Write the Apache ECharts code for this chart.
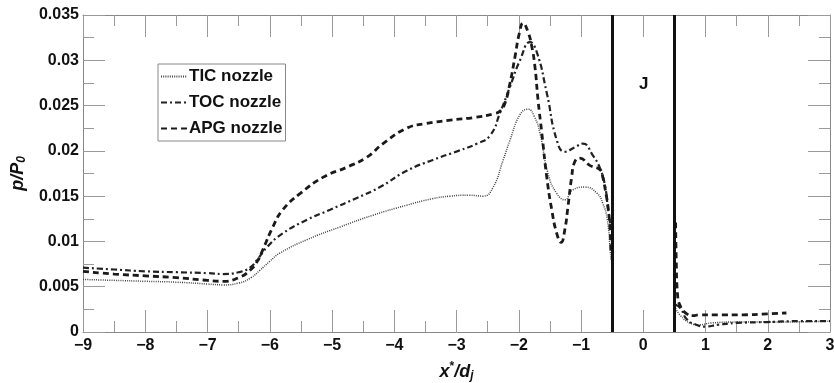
<!DOCTYPE html>
<html>
<head>
<meta charset="utf-8">
<script src="https://cdn.jsdelivr.net/npm/echarts@6/dist/echarts.min.js"></script>
<style>
  html, body { margin: 0; padding: 0; background: #fff; }
  #chart { width: 834px; height: 383px; }
</style>
</head>
<body>
<div id="chart"></div>
<script>
// x*/dj positions and p/P0 values, null = gap through the jet region
const apgX = [-9, -8.5, -8, -7.5, -7, -6.75, -6.5, -6.32, -6.2, -6.11, -5.95, -5.79, -5.51, -5.14, -4.76, -4.44, -4.18, -3.8, -3.5, -3.1, -2.7, -2.4, -2.3, -2.22, -2.14, -2.06, -1.99, -1.93, -1.85, -1.79, -1.74, -1.69, -1.63, -1.55, -1.47, -1.39, -1.32, -1.26, -1.21, -1.15, -1.1, -1.02, -0.86, -0.69, -0.65, -0.61, -0.56, -0.53, -0.52,
  0, 0.52, 0.53, 0.55, 0.6, 0.7, 0.8, 0.9, 1.2, 1.6, 2.0, 2.3];
const apgY = [0.0067, 0.0064, 0.0062, 0.006, 0.0057, 0.0056, 0.006, 0.0068, 0.0078, 0.0091, 0.0116, 0.0135, 0.0153, 0.0171, 0.0182, 0.0193, 0.0208, 0.0225, 0.023, 0.0234, 0.0237, 0.0241, 0.0244, 0.0253, 0.0275, 0.0304, 0.033, 0.0341, 0.0331, 0.0315, 0.0293, 0.0256, 0.022, 0.0171, 0.0135, 0.0109, 0.0099, 0.0113, 0.0138, 0.0171, 0.0188, 0.0192, 0.0184, 0.0179, 0.0171, 0.0157, 0.0135, 0.011, 0.009,
  null, 0.0121, 0.008, 0.0042, 0.0028, 0.002, 0.0018, 0.0019, 0.0019, 0.0019, 0.002, 0.0021];

const tocX = [-9, -8.5, -8, -7.5, -7, -6.75, -6.5, -6.32, -6.2, -6.04, -5.79, -5.4, -5.03, -4.6, -4.23, -3.8, -3.38, -2.97, -2.67, -2.46, -2.3, -2.14, -1.98, -1.82, -1.71, -1.55, -1.39, -1.26, -1.1, -0.97, -0.81, -0.69, -0.61, -0.57, -0.53,
  0, 0.52, 0.6, 0.7, 0.85, 1.0, 1.2, 1.5, 2.0, 2.5, 3.0];
const tocY = [0.0071, 0.0069, 0.0067, 0.0066, 0.0065, 0.0064, 0.0066, 0.0071, 0.008, 0.0094, 0.0109, 0.0124, 0.0135, 0.0148, 0.016, 0.0178, 0.019, 0.02, 0.0208, 0.0217, 0.0242, 0.0271, 0.03, 0.032, 0.0309, 0.0264, 0.0212, 0.0199, 0.0204, 0.0208, 0.0195, 0.018, 0.016, 0.0138, 0.012,
  null, 0.003, 0.0026, 0.0014, 0.0008, 0.0006, 0.0008, 0.001, 0.0011, 0.0012, 0.0012];

const ticX = [-9, -8.5, -8, -7.5, -7, -6.75, -6.5, -6.3, -6.16, -6.0, -5.84, -5.4, -4.87, -4.34, -3.8, -3.4, -3.1, -2.8, -2.57, -2.41, -2.25, -2.14, -1.98, -1.85, -1.75, -1.66, -1.53, -1.39, -1.26, -1.13, -0.94, -0.74, -0.65, -0.58, -0.53, -0.52,
  0, 0.52, 0.6, 0.75, 0.9, 1.1, 1.5, 2.0, 3.0];
const ticY = [0.0058, 0.0057, 0.0056, 0.0055, 0.0053, 0.0052, 0.0054, 0.006, 0.0068, 0.0078, 0.0087, 0.0102, 0.0116, 0.0129, 0.014, 0.0147, 0.015, 0.0151, 0.015, 0.016, 0.019, 0.0212, 0.024, 0.0246, 0.0238, 0.022, 0.0175, 0.0153, 0.0146, 0.0157, 0.016, 0.0153, 0.0142, 0.0125, 0.009, 0.008,
  null, 0.0026, 0.0018, 0.001, 0.0008, 0.001, 0.0011, 0.0011, 0.0012];

const wallX = [-0.5, 0.5];
const seriesNames = ['TIC nozzle', 'TOC nozzle', 'APG nozzle'];

const pairs = (xs, ys) => xs.map((x, i) => [x, ys[i] === null ? '-' : ys[i]]);

const myChart = echarts.init(document.getElementById('chart'));

const tickStyle = { color: '#9a9a9a', width: 1 };
const baseFont = 'Liberation Sans, Arial, sans-serif';

const xAxisBase = {
  type: 'value', min: -9, max: 3, interval: 1,
  axisLine: { show: true, onZero: false, lineStyle: { color: '#888' } },
  axisTick: { show: true, inside: true, length: 22, lineStyle: tickStyle },
  minorTick: { show: true, splitNumber: 2, length: 11, lineStyle: tickStyle },
  splitLine: { show: false },
};
const yAxisBase = {
  type: 'value', min: 0, max: 0.035, interval: 0.005,
  axisLine: { show: true, onZero: false, lineStyle: { color: '#888' } },
  axisTick: { show: true, inside: true, length: 22, lineStyle: tickStyle },
  minorTick: { show: true, splitNumber: 2, length: 11, lineStyle: tickStyle },
  splitLine: { show: false },
};

const option = {
  animation: false,
  backgroundColor: '#fff',
  grid: { left: 83, right: 4, top: 15, bottom: 51, containLabel: false, outerBoundsMode: 'none' },
  legend: {
    orient: 'vertical', left: 158, top: 64,
    padding: [4, 3, 4, 2], itemGap: 9,
    itemWidth: 26, itemHeight: 14,
    borderColor: '#888', borderWidth: 1,
    backgroundColor: '#fff',
    itemStyle: { opacity: 0 },
    data: seriesNames,
    textStyle: { fontFamily: baseFont, fontWeight: 'bold', fontSize: 17, color: '#111', padding: [0, 0, 0, -3] },
  },
  xAxis: [
    Object.assign({}, xAxisBase, {
      position: 'bottom',
      axisLabel: {
        fontFamily: baseFont, fontWeight: 'bold', fontSize: 16, color: '#111', margin: 6,
        formatter: (v) => (v < 0 ? '\u2212' + (-v) : String(v)),
      },
      name: '{i|x}{sup|*}{i|/d}{sub|j}',
      nameLocation: 'middle', nameGap: 29,
      nameTextStyle: {
        rich: {
          i: { fontFamily: baseFont, fontWeight: 'bold', fontStyle: 'italic', fontSize: 18, color: '#111' },
          sup: { fontFamily: baseFont, fontWeight: 'bold', fontSize: 12, color: '#111', padding: [0, 0, 10, 0] },
          sub: { fontFamily: baseFont, fontWeight: 'bold', fontStyle: 'italic', fontSize: 12, color: '#111', padding: [8, 0, 0, 0] },
        },
      },
    }),
    Object.assign({}, xAxisBase, { position: 'top', axisLabel: { show: false } }),
  ],
  yAxis: [
    Object.assign({}, yAxisBase, {
      position: 'left',
      axisLabel: {
        fontFamily: baseFont, fontWeight: 'bold', fontSize: 16, color: '#111', margin: 4,
        formatter: (v) => String(+v.toFixed(3)),
      },
      name: '{i|p/P}{sub|0}',
      nameLocation: 'middle', nameGap: 41, nameRotate: 90,
      nameTextStyle: {
        rich: {
          i: { fontFamily: baseFont, fontWeight: 'bold', fontStyle: 'italic', fontSize: 18, color: '#111' },
          sub: { fontFamily: baseFont, fontWeight: 'bold', fontStyle: 'italic', fontSize: 12, color: '#111', padding: [8, 0, 0, 0] },
        },
      },
    }),
    Object.assign({}, yAxisBase, { position: 'right', axisLabel: { show: false } }),
  ],
  graphic: [
    {
      type: 'text', left: 639, top: 76,
      style: { text: 'J', fontFamily: baseFont, fontWeight: 'bold', fontSize: 17, fill: '#111' },
    },
  ],
  series: [
    {
      name: seriesNames[0], type: 'line', showSymbol: false, symbol: 'none',
      smooth: 0.5,
      data: pairs(ticX, ticY),
      lineStyle: { color: '#444', width: 1.5, type: [1, 1.2] },
      itemStyle: { color: '#444' },
      z: 3,
    },
    {
      name: seriesNames[1], type: 'line', showSymbol: false, symbol: 'none',
      smooth: 0.5,
      data: pairs(tocX, tocY),
      lineStyle: { color: '#222', width: 2.2, type: [6, 3, 2, 3] },
      itemStyle: { color: '#222' },
      z: 3,
    },
    {
      name: seriesNames[2], type: 'line', showSymbol: false, symbol: 'none',
      smooth: 0.5,
      data: pairs(apgX, apgY),
      lineStyle: { color: '#1a1a1a', width: 2.8, type: [6, 4] },
      itemStyle: { color: '#1a1a1a' },
      z: 3,
      markLine: {
        silent: true, symbol: 'none',
        label: { show: false },
        lineStyle: { color: '#111', width: 3, type: 'solid' },
        data: wallX.map((x) => ({ xAxis: x })),
      },
    },
  ],
};

myChart.setOption(option);
</script>
</body>
</html>
